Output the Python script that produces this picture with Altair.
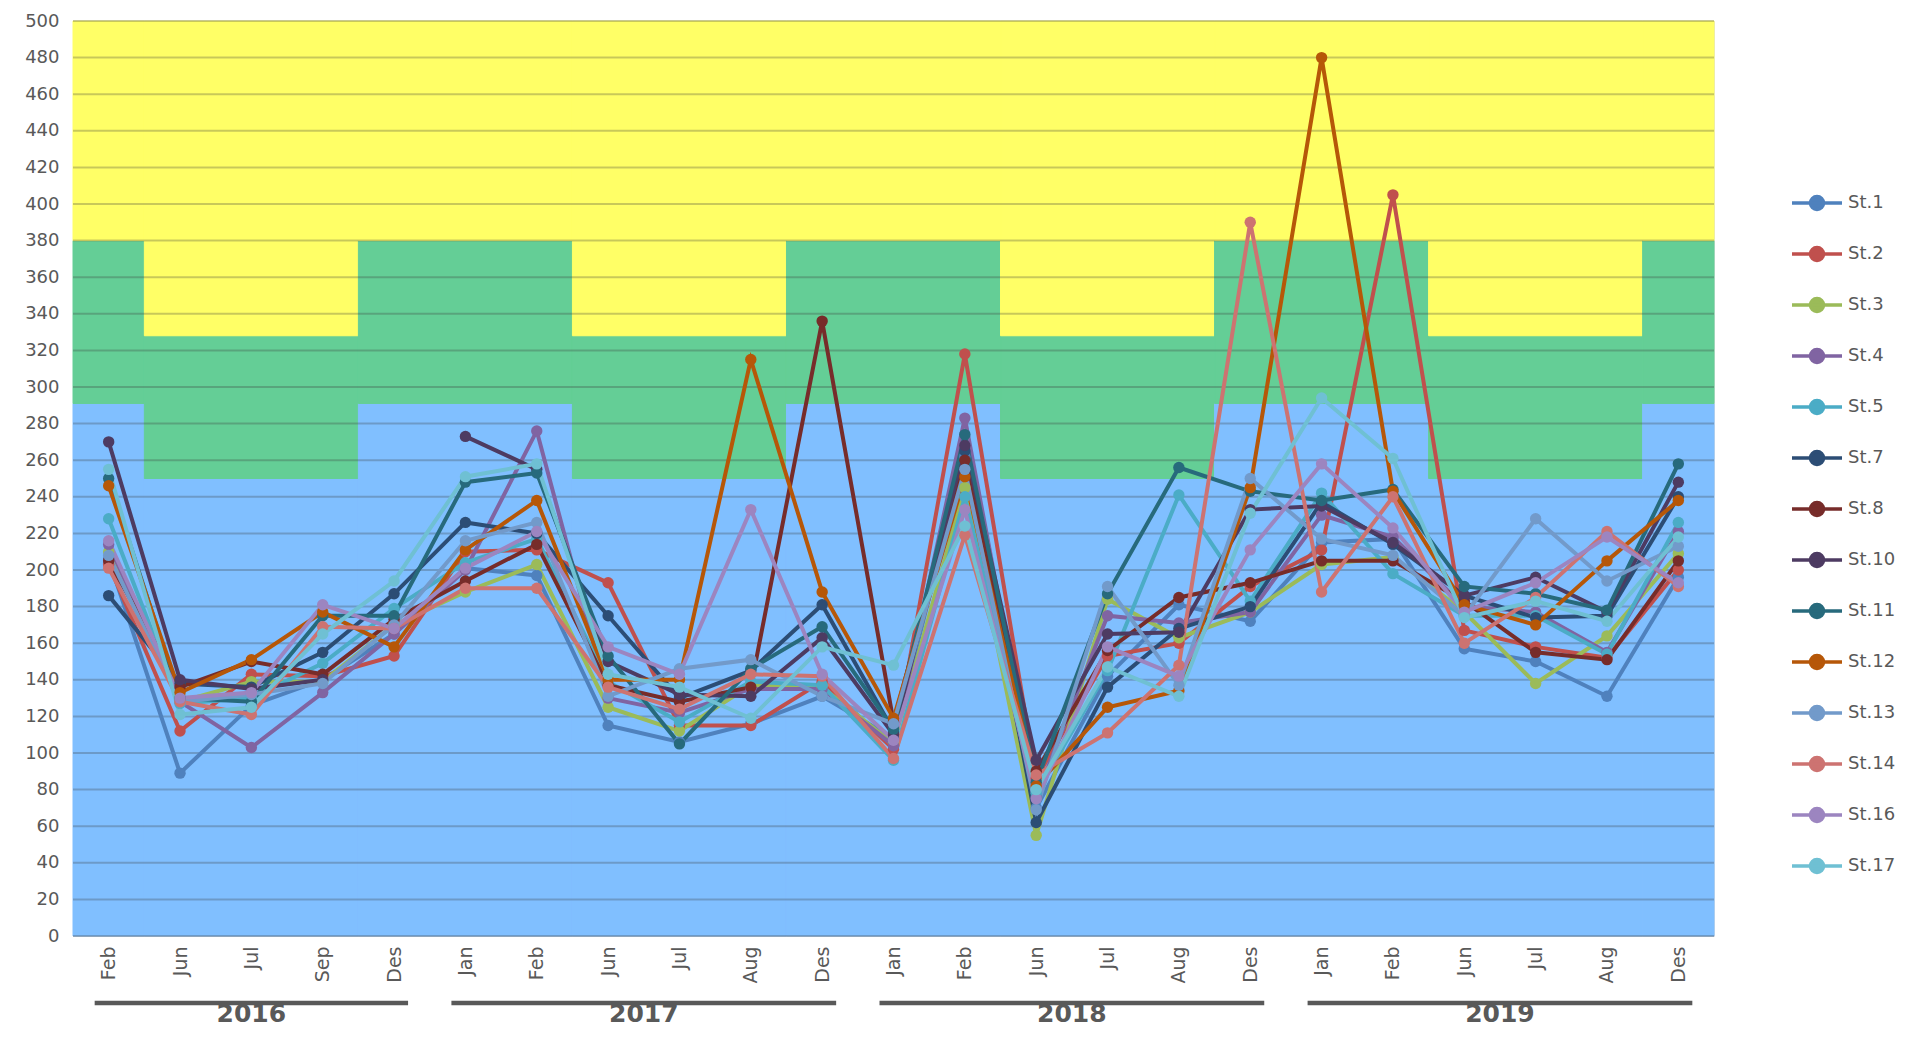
import altair as alt
import pandas as pd

# ---------------- data ----------------
months = ["Feb", "Jun", "Jul", "Sep", "Des",
          "Jan", "Feb", "Jun", "Jul", "Aug", "Des",
          "Jan", "Feb", "Jun", "Jul", "Aug", "Des",
          "Jan", "Feb", "Jun", "Jul", "Aug", "Des"]
years = [2016] * 5 + [2017] * 6 + [2018] * 6 + [2019] * 6

stations = ["St.1", "St.2", "St.3", "St.4", "St.5", "St.7", "St.8",
            "St.10", "St.11", "St.12", "St.13", "St.14", "St.16", "St.17"]
colors = ["#4F81BD", "#C0504D", "#9BBB59", "#8064A2", "#4BACC6", "#2C4D75", "#772C2A",
          "#4D3B62", "#276A7C", "#B65708", "#729ACA", "#CD7371", "#9C85C0", "#6FC0D3"]

st1 = [206, 89, 126, 140, 165, 201, 197, 115, 106, 116, 131, 108, 262, 70, 142, 181, 172, 215, 217, 157, 150, 131, 196]
st2 = [203, 112, 143, 142, 153, 210, 211, 193, 115, 115, 139, 102, 318, 86, 153, 160, 191, 211, 405, 167, 158, 152, 200]
st3 = [210, 128, 139, 139, 170, 188, 203, 125, 112, 137, 136, 105, 245, 55, 184, 163, 177, 203, 207, 177, 138, 164, 209]
st4 = [214, 128, 103, 133, 165, 200, 276, 130, 122, 135, 135, 104, 283, 76, 175, 171, 177, 230, 218, 180, 177, 155, 221]
st5 = [228, 127, 130, 149, 179, 204, 217, 139, 117, 139, 137, 96, 240, 78, 145, 241, 183, 242, 198, 175, 175, 154, 226]
st7 = [186, 138, 136, 155, 187, 226, 220, 175, 130, 145, 181, 112, 265, 62, 136, 168, 180, 237, 214, 186, 174, 175, 240]
st8 = [205, 136, 150, 143, 173, 194, 214, 137, 128, 136, 336, 117, 260, 90, 156, 185, 193, 205, 205, 183, 155, 151, 205]
st10 = [270, 140, 135, 140, None, 273, 255, 150, 132, 131, 163, 110, 268, 96, 165, 166, 233, 235, 215, 186, 196, 177, 248]
st11 = [250, 130, 128, 175, 175, 248, 253, 153, 105, 146, 169, 113, 274, 84, 187, 256, 243, 238, 244, 191, 187, 178, 258]
st12 = [246, 133, 151, 177, 158, 211, 238, 140, 140, 315, 188, 119, 251, 82, 125, 134, 245, 480, 243, 181, 170, 205, 238]
st13 = [208, 128, 132, 138, 170, 216, 226, 131, 146, 151, 131, 116, 255, 69, 191, 137, 250, 217, 208, 175, 228, 194, 213]
st14 = [201, 128, 121, 169, 168, 190, 190, 136, 124, 143, 142, 97, 219, 88, 111, 148, 390, 188, 240, 160, 185, 221, 191]
st16 = [216, 130, 133, 181, 168, 201, 221, 158, 143, 233, 143, 107, 233, 75, 158, 142, 211, 258, 223, 177, 193, 218, 193]
st17 = [255, 121, 125, 165, 194, 251, 258, 143, 136, 119, 158, 148, 224, 80, 147, 131, 231, 294, 261, 174, 183, 172, 218]

series = [st1, st2, st3, st4, st5, st7, st8, st10, st11, st12, st13, st14, st16, st17]

# quality class limits per month
blue_limit = {"Jan": 291, "Feb": 291, "Des": 291, "Jun": 250, "Jul": 250, "Aug": 250, "Sep": 250}
green_limit = {"Jan": 380, "Feb": 380, "Des": 380, "Jun": 328, "Jul": 328, "Aug": 328, "Sep": 328}
y_max = 500
y_ticks = list(range(0, 501, 20))
band_names = ["blue", "green", "yellow"]
band_colors = ["#80BFFF", "#64CE96", "#FFFF66"]

# ---------------- tables ----------------
rows = []
for name, vals in zip(stations, series):
    for i, v in enumerate(vals):
        rows.append({"station": name, "idx": i, "value": v})
df = pd.DataFrame(rows)

# background bands: merge consecutive months with same limits
band_rows = []
start = 0
for i in range(1, len(months) + 1):
    if i == len(months) or blue_limit[months[i]] != blue_limit[months[start]]:
        b = blue_limit[months[start]]
        g = green_limit[months[start]]
        for nm, lo, hi in zip(band_names, [0, b, g], [b, g, y_max]):
            band_rows.append({"x0": start - 0.5, "x1": i - 1 + 0.5, "y0": lo, "y1": hi, "band": nm})
        start = i
bands = pd.DataFrame(band_rows)

grid = pd.DataFrame({"y": y_ticks})

year_rows = []
for yv in sorted(set(years)):
    ids = [i for i, y in enumerate(years) if y == yv]
    year_rows.append({"year": str(yv), "start": ids[0], "end": ids[-1], "mid": sum(ids) / len(ids)})
year_df = pd.DataFrame(year_rows)

# ---------------- chart ----------------
W, H = 1641, 915
FONT = "DejaVu Sans"
GRAY = "#595959"

label_expr = "[" + ",".join("'" + m + "'" for m in months) + "][datum.value]"
xscale = alt.Scale(domain=[-0.5, len(months) - 0.5], nice=False, zero=False)
yscale = alt.Scale(domain=[0, y_max], nice=False)
band_scale = alt.Scale(domain=band_names, range=band_colors)

xaxis = alt.Axis(values=list(range(len(months))), labelExpr=label_expr, labelAngle=270,
                 title=None, grid=False, ticks=False, domain=False, labelPadding=10,
                 labelFontSize=19, labelColor=GRAY, labelFont=FONT, labelOverlap=False)
yaxis = alt.Axis(values=y_ticks, title=None, grid=False, ticks=False, domain=False,
                 labelPadding=14, labelFontSize=18, labelColor=GRAY, labelFont=FONT,
                 labelOverlap=False, labelFlush=False)

bg = alt.Chart(bands).mark_rect(strokeWidth=1).encode(
    x=alt.X("x0:Q", scale=xscale, axis=xaxis),
    x2="x1:Q",
    y=alt.Y("y0:Q", scale=yscale, axis=yaxis),
    y2="y1:Q",
    fill=alt.Fill("band:N", scale=band_scale, legend=None),
    stroke=alt.Stroke("band:N", scale=band_scale, legend=None),
)

gridlines = alt.Chart(grid).mark_rule(color="#3A3A3A", opacity=0.28, strokeWidth=2).encode(
    y=alt.Y("y:Q", scale=yscale, axis=yaxis)
)

legend_symbol = ("M-1,0L1,0M-0.26,0A0.26,0.26,0,1,0,0.26,0A0.26,0.26,0,1,0,-0.26,0Z")

lines = alt.Chart(df).mark_line(
    strokeWidth=4,
    invalid="break-paths-filter-domains",
    point=alt.OverlayMarkDef(filled=True, size=130),
).encode(
    x=alt.X("idx:Q", scale=xscale, axis=xaxis),
    y=alt.Y("value:Q", scale=yscale, axis=yaxis),
    color=alt.Color("station:N", sort=stations,
                    scale=alt.Scale(domain=stations, range=colors),
                    legend=alt.Legend(title=None, orient="none", legendX=1717, legendY=155,
                                      symbolType=legend_symbol, symbolSize=2500,
                                      symbolStrokeWidth=3.5, labelFontSize=18,
                                      labelColor=GRAY, labelFont=FONT, rowPadding=10,
                                      labelOffset=4)),
)

year_bars = alt.Chart(year_df).mark_rule(strokeWidth=4.5, color=GRAY, xOffset=-14, x2Offset=14).encode(
    x=alt.X("start:Q", scale=xscale, axis=xaxis),
    x2="end:Q",
    y=alt.value(H + 67),
)

year_text = alt.Chart(year_df).mark_text(fontSize=25, fontWeight="bold", color=GRAY, font=FONT,
                                         baseline="middle").encode(
    x=alt.X("mid:Q", scale=xscale, axis=xaxis),
    y=alt.value(H + 78),
    text="year:N",
)

chart = alt.layer(bg, gridlines, lines, year_bars, year_text).properties(
    width=W, height=H,
    autosize=alt.AutoSizeParams(type="none"),
    padding={"left": 65, "top": 13, "right": 191, "bottom": 93},
).configure_view(stroke=None).configure_axis(labelOverlap=False).configure(background="white")

chart.save("out.html", embed_options={"renderer": "svg", "actions": False})
